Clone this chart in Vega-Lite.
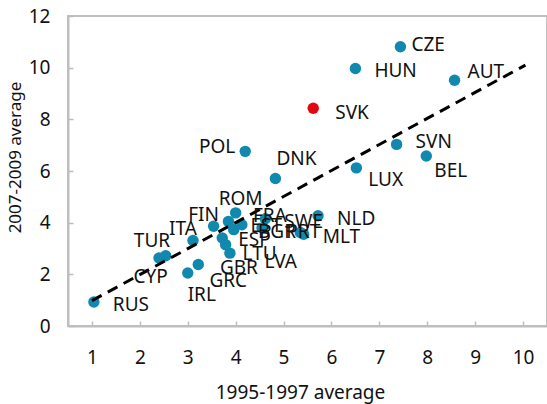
{
  "$schema": "https://vega.github.io/schema/vega-lite/v6.json",
  "autosize": {"type": "none"},
  "padding": {"left": 68, "top": 16, "right": 0, "bottom": 78},
  "width": 479,
  "height": 310,
  "config": {
    "view": {"stroke": "#c0c0c0", "strokeWidth": 2},
    "font": "Noto Sans",
    "axis": {
      "grid": false,
      "domainColor": "#bdbdbd",
      "domainWidth": 2,
      "tickColor": "#bdbdbd",
      "tickWidth": 1.5,
      "labelFont": "Noto Sans",
      "titleFont": "Noto Sans",
      "labelFontSize": 19,
      "titleFontSize": 19,
      "labelColor": "#111111",
      "titleColor": "#111111",
      "titleFontWeight": "normal"
    }
  },
  "data": {
    "values": [
      {"country": "RUS", "x": 1.04, "y": 0.93},
      {"country": "TUR", "x": 2.40, "y": 2.63},
      {"country": "CYP", "x": 2.54, "y": 2.72},
      {"country": "ITA", "x": 3.11, "y": 3.31},
      {"country": "IRL", "x": 3.00, "y": 2.05},
      {"country": "GRC", "x": 3.22, "y": 2.38},
      {"country": "GBR", "x": 3.88, "y": 2.82},
      {"country": "LTU", "x": 3.79, "y": 3.15},
      {"country": "ESP", "x": 3.72, "y": 3.41},
      {"country": "FIN", "x": 3.54, "y": 3.86},
      {"country": "ROM", "x": 4.00, "y": 4.38},
      {"country": "EST", "x": 3.85, "y": 4.05},
      {"country": "FRA", "x": 4.13, "y": 3.92},
      {"country": "SWE", "x": 4.62, "y": 4.15},
      {"country": "BGR", "x": 4.55, "y": 3.80},
      {"country": "PRT", "x": 5.35, "y": 3.62},
      {"country": "MLT", "x": 5.42, "y": 3.55},
      {"country": "LVA", "x": 3.96, "y": 3.73},
      {"country": "NLD", "x": 5.72, "y": 4.27},
      {"country": "POL", "x": 4.20, "y": 6.76},
      {"country": "DNK", "x": 4.83, "y": 5.71},
      {"country": "LUX", "x": 6.52, "y": 6.12},
      {"country": "SVN", "x": 7.36, "y": 7.03},
      {"country": "BEL", "x": 7.98, "y": 6.58},
      {"country": "SVK", "x": 5.62, "y": 8.43},
      {"country": "HUN", "x": 6.50, "y": 9.97},
      {"country": "CZE", "x": 7.44, "y": 10.81},
      {"country": "AUT", "x": 8.57, "y": 9.51}
    ]
  },
  "encoding": {
    "x": {"field": "x", "type": "quantitative", "scale": {"domain": [0.5, 10.5], "nice": false, "zero": false},
      "axis": {"values": [1,2,3,4,5,6,7,8,9,10], "title": "1995-1997 average", "tickSize": -5, "labelPadding": 27, "titleBaseline": "middle", "titleY": 66, "titleX": 232}},
    "y": {"field": "y", "type": "quantitative", "scale": {"domain": [0, 12], "nice": false},
      "axis": {"values": [0,2,4,6,8,10,12], "title": "2007-2009 average", "tickSize": -5, "labelPadding": 23, "titleFontSize": 17, "titleBaseline": "middle", "titleX": -53, "titleY": 141}}
  },
  "layer": [
    {
      "mark": {"type": "point", "filled": true, "opacity": 1, "size": 130},
      "encoding": {
        "color": {"condition": {"test": "datum.country === 'SVK'", "value": "#e30613"}, "value": "#1189ae"}
      }
    },
    {
      "data": {"values": [{"x": 1.0, "y": 0.98}, {"x": 10.05, "y": 10.1}]},
      "mark": {"type": "line", "color": "#000000", "strokeWidth": 3, "strokeDash": [11, 7]},
      "encoding": {}
    },
    {
      "transform": [{"filter": {"field": "country", "oneOf": ["RUS", "HUN", "MLT", "SWE", "NLD"]}}],
      "mark": {"type": "text", "align": "left", "baseline": "middle", "dx": 19, "dy": 3, "fontSize": 19, "color": "#111111"},
      "encoding": {"text": {"field": "country"}}
    },
    {
      "transform": [{"filter": {"field": "country", "oneOf": ["EST", "SVK"]}}],
      "mark": {"type": "text", "align": "left", "baseline": "middle", "dx": 22, "dy": 5, "fontSize": 19, "color": "#111111"},
      "encoding": {"text": {"field": "country"}}
    },
    {
      "transform": [{"filter": {"field": "country", "oneOf": ["SVN"]}}],
      "mark": {"type": "text", "align": "left", "baseline": "middle", "dx": 19, "dy": -2, "fontSize": 19, "color": "#111111"},
      "encoding": {"text": {"field": "country"}}
    },
    {
      "transform": [{"filter": {"field": "country", "oneOf": ["CZE"]}}],
      "mark": {"type": "text", "align": "left", "baseline": "middle", "dx": 11, "dy": -2, "fontSize": 19, "color": "#111111"},
      "encoding": {"text": {"field": "country"}}
    },
    {
      "transform": [{"filter": {"field": "country", "oneOf": ["AUT"]}}],
      "mark": {"type": "text", "align": "left", "baseline": "middle", "dx": 13, "dy": -8, "fontSize": 19, "color": "#111111"},
      "encoding": {"text": {"field": "country"}}
    },
    {
      "transform": [{"filter": {"field": "country", "oneOf": ["LTU"]}}],
      "mark": {"type": "text", "align": "left", "baseline": "middle", "dx": 17, "dy": 9, "fontSize": 19, "color": "#111111"},
      "encoding": {"text": {"field": "country"}}
    },
    {
      "transform": [{"filter": {"field": "country", "oneOf": ["ESP"]}}],
      "mark": {"type": "text", "align": "left", "baseline": "middle", "dx": 16, "dy": 2, "fontSize": 19, "color": "#111111"},
      "encoding": {"text": {"field": "country"}}
    },
    {
      "transform": [{"filter": {"field": "country", "oneOf": ["FRA"]}}],
      "mark": {"type": "text", "align": "left", "baseline": "middle", "dx": 11, "dy": -9, "fontSize": 19, "color": "#111111"},
      "encoding": {"text": {"field": "country"}}
    },
    {
      "transform": [{"filter": {"field": "country", "oneOf": ["BGR"]}}],
      "mark": {"type": "text", "align": "left", "baseline": "middle", "dx": -4, "dy": 4, "fontSize": 19, "color": "#111111"},
      "encoding": {"text": {"field": "country"}}
    },
    {
      "transform": [{"filter": {"field": "country", "oneOf": ["PRT"]}}],
      "mark": {"type": "text", "align": "left", "baseline": "middle", "dx": -14, "dy": 0, "fontSize": 19, "color": "#111111"},
      "encoding": {"text": {"field": "country"}}
    },
    {
      "transform": [{"filter": {"field": "country", "oneOf": ["LUX"]}}],
      "mark": {"type": "text", "align": "left", "baseline": "middle", "dx": 12, "dy": 12, "fontSize": 19, "color": "#111111"},
      "encoding": {"text": {"field": "country"}}
    },
    {
      "transform": [{"filter": {"field": "country", "oneOf": ["BEL"]}}],
      "mark": {"type": "text", "align": "left", "baseline": "middle", "dx": 8, "dy": 15, "fontSize": 19, "color": "#111111"},
      "encoding": {"text": {"field": "country"}}
    },
    {
      "transform": [{"filter": {"field": "country", "oneOf": ["DNK"]}}],
      "mark": {"type": "text", "align": "left", "baseline": "middle", "dx": 1, "dy": -19, "fontSize": 19, "color": "#111111"},
      "encoding": {"text": {"field": "country"}}
    },
    {
      "transform": [{"filter": {"field": "country", "oneOf": ["POL"]}}],
      "mark": {"type": "text", "align": "right", "baseline": "middle", "dx": -10, "dy": -4, "fontSize": 19, "color": "#111111"},
      "encoding": {"text": {"field": "country"}}
    },
    {
      "transform": [{"filter": {"field": "country", "oneOf": ["TUR"]}}],
      "mark": {"type": "text", "align": "center", "baseline": "middle", "dx": -7, "dy": -17, "fontSize": 19, "color": "#111111"},
      "encoding": {"text": {"field": "country"}}
    },
    {
      "transform": [{"filter": {"field": "country", "oneOf": ["CYP"]}}],
      "mark": {"type": "text", "align": "center", "baseline": "middle", "dx": -15, "dy": 21, "fontSize": 19, "color": "#111111"},
      "encoding": {"text": {"field": "country"}}
    },
    {
      "transform": [{"filter": {"field": "country", "oneOf": ["ITA", "FIN"]}}],
      "mark": {"type": "text", "align": "center", "baseline": "middle", "dx": -10, "dy": -11, "fontSize": 19, "color": "#111111"},
      "encoding": {"text": {"field": "country"}}
    },
    {
      "transform": [{"filter": {"field": "country", "oneOf": ["IRL"]}}],
      "mark": {"type": "text", "align": "center", "baseline": "middle", "dx": 14, "dy": 22, "fontSize": 19, "color": "#111111"},
      "encoding": {"text": {"field": "country"}}
    },
    {
      "transform": [{"filter": {"field": "country", "oneOf": ["GRC"]}}],
      "mark": {"type": "text", "align": "center", "baseline": "middle", "dx": 30, "dy": 16, "fontSize": 19, "color": "#111111"},
      "encoding": {"text": {"field": "country"}}
    },
    {
      "transform": [{"filter": {"field": "country", "oneOf": ["GBR"]}}],
      "mark": {"type": "text", "align": "center", "baseline": "middle", "dx": 9, "dy": 15, "fontSize": 19, "color": "#111111"},
      "encoding": {"text": {"field": "country"}}
    },
    {
      "transform": [{"filter": {"field": "country", "oneOf": ["ROM"]}}],
      "mark": {"type": "text", "align": "center", "baseline": "middle", "dx": 5, "dy": -14, "fontSize": 19, "color": "#111111"},
      "encoding": {"text": {"field": "country"}}
    },
    {
      "transform": [{"filter": {"field": "country", "oneOf": ["LVA"]}}],
      "mark": {"type": "text", "align": "center", "baseline": "middle", "dx": 47, "dy": 32, "fontSize": 19, "color": "#111111"},
      "encoding": {"text": {"field": "country"}}
    }
  ]
}
